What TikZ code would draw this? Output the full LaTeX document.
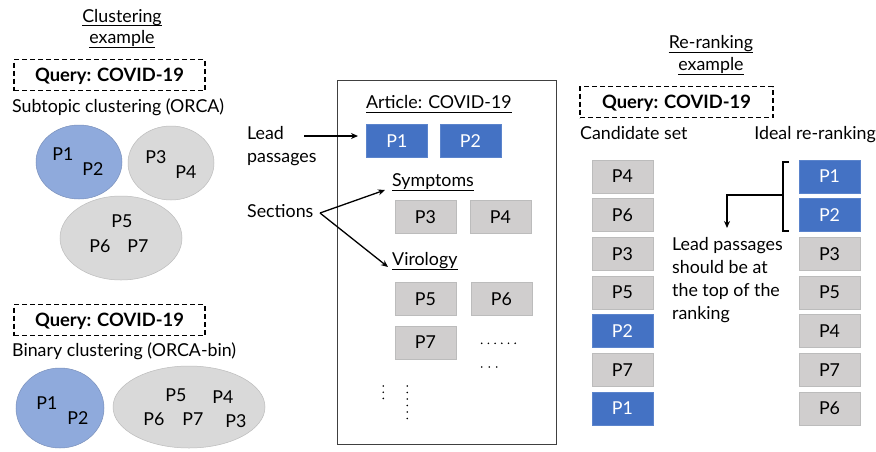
\documentclass[tikz,border=0pt]{standalone}
\usepackage{fontspec}
\setmainfont{Lato}
\usetikzlibrary{arrows.meta,shapes.geometric}
\definecolor{pblue}{HTML}{4472C4}
\definecolor{pblueedge}{HTML}{5B84CC}
\definecolor{pbluelt}{HTML}{8FAADC}
\definecolor{pgray}{HTML}{D0CECE}
\definecolor{pgrayedge}{HTML}{BCBCBC}
\definecolor{egray}{HTML}{D9D9D9}
\definecolor{framegray}{HTML}{404040}
\begin{document}
\begin{tikzpicture}[x=1pt,y=-1pt,
  txt/.style={inner sep=0pt, anchor=base west, font=\fontsize{17.8}{20}\selectfont},
  ctxt/.style={txt, anchor=base},
  qtxt/.style={inner sep=0pt, anchor=base, font=\fontsize{18.4}{21}\selectfont\bfseries},
  lbl/.style={inner sep=0pt, anchor=base, font=\fontsize{17.8}{20}\selectfont},
  qbox/.style={draw=black, line width=1.5pt, dash pattern=on 5pt off 3pt,
    minimum width=191pt, minimum height=31pt, inner sep=0pt},
  pbox/.style={minimum width=61pt, minimum height=33pt, inner sep=0pt,
    font=\fontsize{17.8}{20}\selectfont, line width=0.8pt},
  bluebox/.style={pbox, fill=pblue, draw=pblueedge, text=white},
  graybox/.style={pbox, fill=pgray, draw=pgrayedge},
  blueell/.style={ellipse, fill=pbluelt, draw=pbluelt!85!black, line width=0.5pt, inner sep=0pt},
  grayell/.style={ellipse, fill=egray, draw=pgrayedge, line width=0.5pt, inner sep=0pt},
  arr/.style={line width=1.3pt, -{Stealth[length=7pt,width=6pt]}},
  uline/.style={line width=0.8pt},
  dot/.style={fill=black}
]
\useasboundingbox (0,0) rectangle (876,451);
\fill[white] (0,0) rectangle (876,451);

% ---------- clustering example ----------
\node[ctxt] (cl1) at (122,22) {Clustering};
\node[ctxt] (cl2) at (122,43) {example};
\draw[uline] ([yshift=-3pt]cl1.base west) -- ([yshift=-3pt]cl1.base east);
\draw[uline] ([yshift=-4pt]cl2.base west) -- ([yshift=-4pt]cl2.base east);

\node[qbox] (qb1) at (109.5,75) {};
\node[qtxt] (q1) at (109.5,81.5) {Query: COVID-19};
\node[txt] (sub) at (12,112) {Subtopic clustering (ORCA)};

\node[blueell, minimum width=86pt, minimum height=74pt] (ea) at (79,162) {};
\node[grayell, minimum width=86pt, minimum height=74pt] (eb) at (171,163) {};
\node[grayell, minimum width=122pt, minimum height=84pt] (ec) at (121,238) {};
\node[lbl] (ea1) at (63,160) {P1};
\node[lbl] (ea2) at (93,175) {P2};
\node[lbl] (eb3) at (156,163) {P3};
\node[lbl] (eb4) at (186,178) {P4};
\node[lbl] (ec5) at (122,227) {P5};
\node[lbl] (ec6) at (100,252) {P6};
\node[lbl] (ec7) at (138,252) {P7};

\node[qbox] (qb2) at (109.5,320) {};
\node[qtxt] (q2) at (109.5,326.5) {Query: COVID-19};
\node[txt] (bin) at (12,356) {Binary clustering (ORCA-bin)};

\node[blueell, minimum width=88pt, minimum height=80pt] (fa) at (60,408) {};
\node[grayell, minimum width=152pt, minimum height=82pt] (fb) at (189,407) {};
\node[lbl] (fa1) at (47,409) {P1};
\node[lbl] (fa2) at (78,424) {P2};
\node[lbl] (fb5) at (176,401) {P5};
\node[lbl] (fb4) at (223,403) {P4};
\node[lbl] (fb6) at (154,425) {P6};
\node[lbl] (fb7) at (193,425) {P7};
\node[lbl] (fb3) at (236,427) {P3};

% ---------- article ----------
\node[draw=framegray, line width=1pt, minimum width=219pt, minimum height=364pt, inner sep=0pt]
  (art) at (447,262) {};
\node[txt] (arttitle) at (366,108) {Article: COVID-19};
\draw[uline] ([yshift=-4pt]arttitle.base west) -- ([yshift=-4pt]arttitle.base east);

\node[bluebox] (a1) at (397,141) {P1};
\node[bluebox] (a2) at (470.5,141) {P2};
\node[txt] (symp) at (392,186) {Symptoms};
\draw[uline] ([yshift=-4pt]symp.base west) -- ([yshift=-4pt]symp.base east);
\node[graybox] (a3) at (425.5,217) {P3};
\node[graybox] (a4) at (500.5,217) {P4};
\node[txt] (viro) at (392,265) {Virology};
\draw[uline] ([yshift=-4pt]viro.base west) -- ([yshift=-4pt]viro.base east);
\node[graybox] (a5) at (425.5,299) {P5};
\node[graybox] (a6) at (501.5,299) {P6};
\node[graybox] (a7) at (425.5,342.5) {P7};

% elided passages
\foreach \i in {0,...,5} \fill[dot] (481.7+6.7*\i,343.3) circle (0.9pt);
\foreach \i in {0,...,2} \fill[dot] (481.7+7.5*\i,367) circle (0.9pt);
\foreach \i in {0,...,2} \fill[dot] (383.3,386+6.2*\i) circle (0.9pt);
\foreach \i in {0,...,5} \fill[dot] (407.3,386+6.5*\i) circle (0.9pt);

% callouts
\node[txt] (lead1) at (247,139) {Lead};
\node[txt] (lead2) at (247,162) {passages};
\node[txt] (sect) at (247,217) {Sections};
\coordinate (leadfrom) at (304,136);
\coordinate (leadto) at (358,136);
\draw[arr] (leadfrom) -- (leadto);
\coordinate (sectfrom) at (320,213);
\coordinate (symto) at (385,190);
\coordinate (virto) at (388,267);
\draw[arr] (sectfrom) -- (symto);
\draw[arr] (sectfrom) -- (virto);

% ---------- re-ranking example ----------
\node[ctxt] (rr1) at (711,48) {Re-ranking};
\node[ctxt] (rr2) at (711,70) {example};
\draw[uline] ([yshift=-4pt]rr1.base west) -- ([yshift=-4pt]rr1.base east);
\draw[uline] ([yshift=-4pt]rr2.base west) -- ([yshift=-4pt]rr2.base east);

\node[qbox, minimum width=193pt] (qb3) at (676.5,102) {};
\node[qtxt] (q3) at (676.5,108.5) {Query: COVID-19};
\node[txt] (cand) at (580,139) {Candidate set};
\node[txt, anchor=base east] (ideal) at (876,139) {Ideal re-ranking};

% candidate ranking
\node[graybox] (c1) at (622.5,176.5) {P4};
\node[graybox] (c2) at (622.5,215.2) {P6};
\node[graybox] (c3) at (622.5,253.8) {P3};
\node[graybox] (c4) at (622.5,292.5) {P5};
\node[bluebox] (c5) at (622.5,331.2) {P2};
\node[graybox] (c6) at (622.5,369.8) {P7};
\node[bluebox] (c7) at (622.5,408.5) {P1};

% ideal ranking
\node[bluebox] (r1) at (829.5,176.5) {P1};
\node[bluebox] (r2) at (829.5,215.2) {P2};
\node[graybox] (r3) at (829.5,253.8) {P3};
\node[graybox] (r4) at (829.5,292.5) {P5};
\node[graybox] (r5) at (829.5,331.2) {P4};
\node[graybox] (r6) at (829.5,369.8) {P7};
\node[graybox] (r7) at (829.5,408.5) {P6};

% bracket around the lead passages
\coordinate (brtop) at (789,162);
\coordinate (brbot) at (789,231);
\coordinate (brmid) at (783,195);
\coordinate (brturn) at (727,195);
\coordinate (brtip) at (727,228);
\draw[line width=1.3pt] (brtop) -- (783,162) -- (783,231) -- (brbot);
\draw[arr] (brmid) -- (brturn) -- (brtip);

\node[txt] (n1) at (672,250) {Lead passages};
\node[txt] (n2) at (672,273) {should be at};
\node[txt] (n3) at (672,296) {the top of the};
\node[txt] (n4) at (672,319) {ranking};
\end{tikzpicture}
\end{document}
